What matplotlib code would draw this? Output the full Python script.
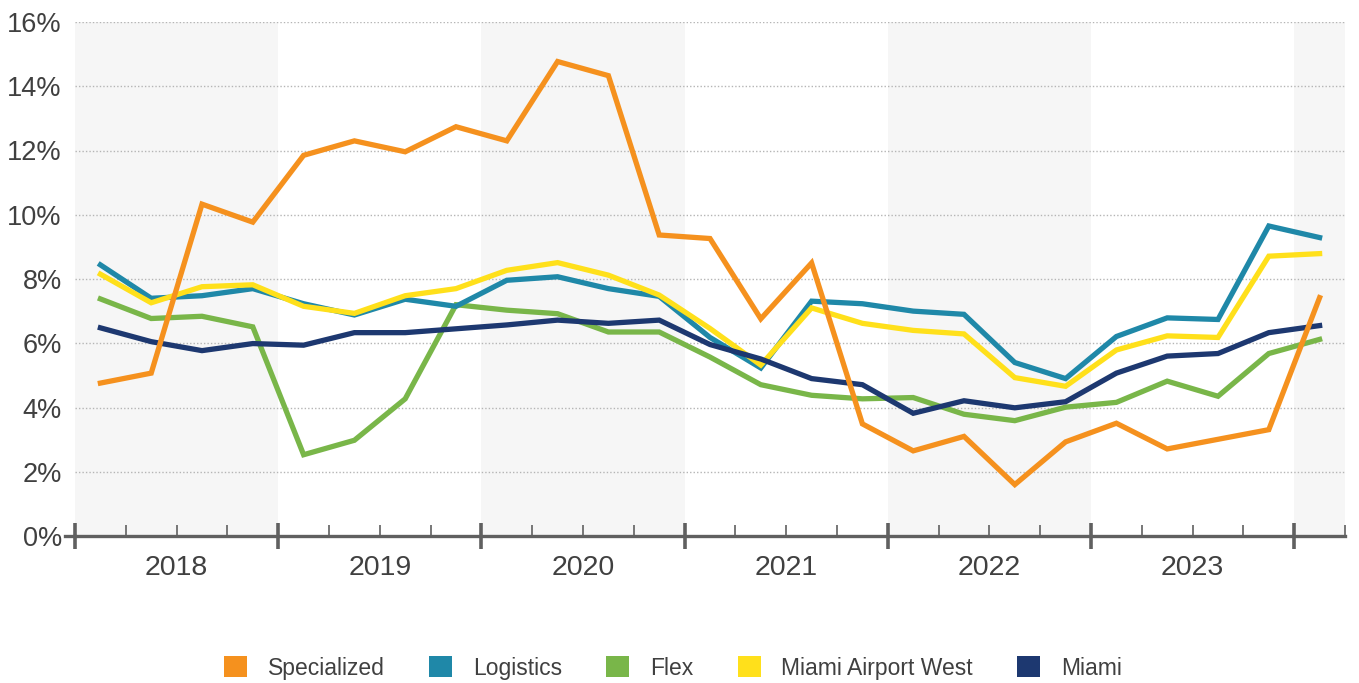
import matplotlib
matplotlib.use("Agg")
import matplotlib.pyplot as plt
from matplotlib.patches import Patch
import numpy as np

plt.rcParams['font.family'] = ['Liberation Sans', 'DejaVu Sans']

years = ["2018", "2019", "2020", "2021", "2022", "2023"]
quarters = ["2018Q1", "2018Q2", "2018Q3", "2018Q4",
            "2019Q1", "2019Q2", "2019Q3", "2019Q4",
            "2020Q1", "2020Q2", "2020Q3", "2020Q4",
            "2021Q1", "2021Q2", "2021Q3", "2021Q4",
            "2022Q1", "2022Q2", "2022Q3", "2022Q4",
            "2023Q1", "2023Q2", "2023Q3", "2023Q4",
            "2024Q1"]

specialized = [4.76, 5.07, 10.33, 9.77, 11.85, 12.3, 11.96, 12.74,
               12.3, 14.77, 14.33, 9.37, 9.26, 6.76, 8.5, 3.49,
               2.65, 3.1, 1.6, 2.93, 3.51, 2.71, 3.01, 3.31, 7.42]
logistics = [8.44, 7.4, 7.48, 7.7, 7.23, 6.88, 7.37, 7.15,
             7.96, 8.07, 7.7, 7.46, 6.18, 5.23, 7.31, 7.23,
             7.0, 6.9, 5.4, 4.9, 6.21, 6.79, 6.74, 9.65, 9.29]
flex = [7.38, 6.77, 6.84, 6.51, 2.53, 2.98, 4.27, 7.2,
        7.03, 6.92, 6.35, 6.35, 5.57, 4.71, 4.38, 4.27,
        4.31, 3.79, 3.59, 4.01, 4.16, 4.82, 4.35, 5.68, 6.12]
miami_airport_west = [8.15, 7.26, 7.76, 7.82, 7.15, 6.93, 7.48, 7.7,
                      8.27, 8.51, 8.12, 7.5, 6.46, 5.32, 7.1, 6.62,
                      6.4, 6.29, 4.93, 4.66, 5.79, 6.23, 6.18, 8.71, 8.79]
miami = [6.48, 6.05, 5.77, 5.99, 5.94, 6.33, 6.33, 6.45,
         6.57, 6.72, 6.62, 6.72, 5.96, 5.51, 4.9, 4.71,
         3.82, 4.21, 3.99, 4.18, 5.07, 5.6, 5.68, 6.33, 6.55]

series = [
    ("Specialized", specialized, "#F5911E", 6),
    ("Logistics", logistics, "#1F88A8", 3),
    ("Flex", flex, "#79B649", 2),
    ("Miami Airport West", miami_airport_west, "#FFE01B", 4),
    ("Miami", miami, "#1D3870", 5),
]

fig = plt.figure(figsize=(13.59, 6.83), dpi=100)
ax = fig.add_axes([75/1359, 1-536/683, 1270/1359, 514/683])

n = len(quarters)
x = np.arange(n) + 0.5

# alternating year shading
for k in range(0, n, 8):
    ax.axvspan(k, min(k + 4, n), color="#F6F6F6", zorder=0, lw=0)

for name, vals, col, z in series:
    ax.plot(x, vals, color=col, lw=3.8, zorder=z, solid_joinstyle='miter', label=name)

ax.set_xlim(0, n)
ax.set_ylim(0, 16)
ax.set_yticks(np.arange(0, 17, 2))
ax.set_yticklabels([f"{v}%" for v in range(0, 17, 2)])
ax.yaxis.grid(True, linestyle=(0, (1, 1.5)), color="#B5B5B5", lw=1.0, zorder=1)
ax.set_axisbelow(True)

ax.set_xticks(np.arange(0, n + 1, 4))
ax.set_xticklabels([])
ax.set_xticks([i for i in range(1, n + 1) if i % 4 != 0], minor=True)
ax.tick_params(axis='x', which='major', direction='inout', length=19, width=2.6, color="#606060")
ax.tick_params(axis='x', which='minor', direction='in', length=8, width=1.2, color="#606060")
ax.tick_params(axis='y', length=0, pad=9.5, labelsize=19.5, labelcolor="#404040")

for s in ['top', 'right', 'left']:
    ax.spines[s].set_visible(False)
ax.spines['bottom'].set_color("#606060")
ax.spines['bottom'].set_linewidth(2.4)
ax.spines['bottom'].set_zorder(10)
ax.plot([-0.2, 0], [0, 0], color="#606060", lw=2.4, clip_on=False, zorder=10)

for i, yr in enumerate(years):
    ax.text(4 * i + 2, -0.062, yr, transform=ax.get_xaxis_transform(),
            ha='center', va='center', fontsize=20.5, color="#404040")

handles = [Patch(facecolor=c, edgecolor='none', label=nm) for nm, _, c, _ in series]
fig.legend(handles=handles, loc='center', bbox_to_anchor=(673/1359, 1-668/683),
           ncol=5, frameon=False, fontsize=16.5, handlelength=1.0, handleheight=1.0,
           handletextpad=0.9, columnspacing=1.94, labelcolor="#404040")

fig.savefig("out.png", dpi=100)
